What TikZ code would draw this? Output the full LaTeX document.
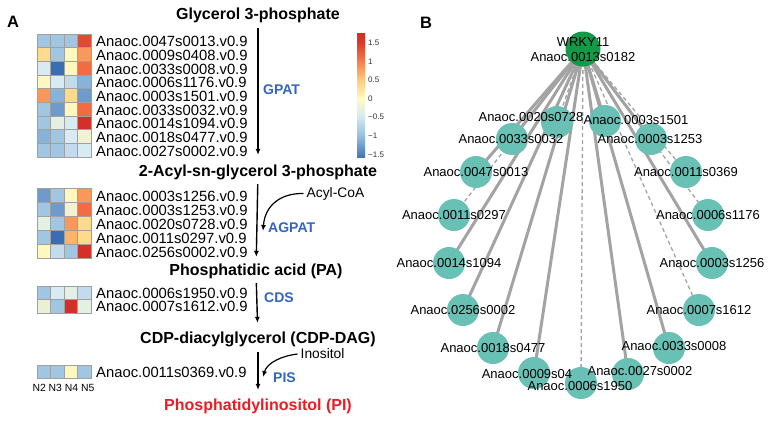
\documentclass[tikz,border=0pt]{standalone}
\usepackage{fontspec}
\setmainfont{Liberation Sans}
\usetikzlibrary{arrows.meta}
\pgfdeclarelayer{background}
\pgfdeclarelayer{canvas}
\pgfsetlayers{canvas,background,main}
\definecolor{hDB}{HTML}{3A6DB4}
\definecolor{hMB}{HTML}{6E9BCB}
\definecolor{hMBb}{HTML}{88B3D8}
\definecolor{hLB}{HTML}{A0C6E1}
\definecolor{hLLB}{HTML}{C2DCED}
\definecolor{hVLB}{HTML}{D8EBF2}
\definecolor{hPG}{HTML}{E3F1E4}
\definecolor{hPGb}{HTML}{EAF0D4}
\definecolor{hPY}{HTML}{FEF7C0}
\definecolor{hPYb}{HTML}{F3F1D3}
\definecolor{hLO}{HTML}{FEDA8C}
\definecolor{hOb}{HTML}{FDB36A}
\definecolor{hO}{HTML}{F9985A}
\definecolor{hOR}{HTML}{F26B43}
\definecolor{hRO}{HTML}{E14B32}
\definecolor{hR}{HTML}{D3302A}
\definecolor{cellgrey}{HTML}{A0A0A0}
\definecolor{enzblue}{HTML}{3366BE}
\definecolor{pired}{HTML}{EB1C24}
\definecolor{cbtext}{HTML}{333333}
\definecolor{hubgreen}{HTML}{119A48}
\definecolor{tealnode}{HTML}{69C0B4}
\definecolor{edgegrey}{HTML}{A3A3A3}
\definecolor{cbA}{HTML}{D22C28}
\definecolor{cbB}{HTML}{DC3B2C}
\definecolor{cbC}{HTML}{F67E4D}
\definecolor{cbD}{HTML}{FDCB7C}
\definecolor{cbE}{HTML}{FFFCC2}
\definecolor{cbF}{HTML}{D4E9F2}
\definecolor{cbG}{HTML}{94BFDC}
\definecolor{cbH}{HTML}{4B7BB8}
\definecolor{cbI}{HTML}{4575B4}
\begin{document}
\begin{tikzpicture}[x=1pt,y=-1pt,
  hcell/.style={draw=cellgrey,line width=0.9pt},
  hlab/.style={anchor=west,inner sep=0pt,font=\fontsize{14.8}{16}\selectfont},
  ttl/.style={anchor=base,inner sep=0pt,font=\fontsize{16}{18}\selectfont\bfseries},
  enz/.style={anchor=west,inner sep=0pt,text=enzblue,font=\fontsize{14}{16}\selectfont\bfseries},
  subst/.style={anchor=west,inner sep=0pt,font=\fontsize{13.8}{16}\selectfont},
  parr/.style={line width=1.4pt,-{Latex[length=6pt,width=5pt]}},
  cbl/.style={anchor=west,inner sep=0pt,text=cbtext,font=\fontsize{8}{9}\selectfont},
  plabel/.style={anchor=base west,inner sep=0pt,font=\fontsize{16.5}{18}\selectfont\bfseries},
  hub/.style={circle,fill=hubgreen,minimum size=35pt,inner sep=0pt},
  tnode/.style={circle,fill=tealnode,minimum size=32pt,inner sep=0pt},
  nlab/.style={inner sep=0pt,font=\fontsize{13}{15}\selectfont},
  sedge/.style={draw=edgegrey,line width=3pt},
  dedge/.style={draw=edgegrey,line width=1.3pt,dash pattern=on 4pt off 3pt},
]
\begin{pgfonlayer}{canvas}
\fill[white] (0,0) rectangle (772,421);
\end{pgfonlayer}
\useasboundingbox (0,0) rectangle (772,421);

% ---------------- Panel A ----------------
\node[plabel] (pA) at (7,27.7) {A};

% titles
\node[ttl] (t1) at (258,19) {Glycerol 3-phosphate};
\node[ttl] (t2) at (258,176.7) {2-Acyl-sn-glycerol 3-phosphate};
\node[ttl] (t3) at (256,275.7) {Phosphatidic acid (PA)};
\node[ttl] (t4) at (258,343.3) {CDP-diacylglycerol (CDP-DAG)};
\node[ttl,text=pired] (t5) at (258,410) {Phosphatidylinositol (PI)};

% pathway arrows
\draw[parr,shorten <=5.6pt,shorten >=10pt] (t1) -- (t2);
\draw[parr,shorten <=3.9pt,shorten >=7pt] (t2) -- (t3);
\draw[parr,shorten <=3.9pt,shorten >=8.6pt] (t3) -- (t4);
\draw[parr,shorten <=5.3pt,shorten >=8.3pt] (t4) -- (t5);

% enzymes
\node[enz] (gpat) at (263,90) {GPAT};
\node[enz] (agpat) at (268,228) {AGPAT};
\node[enz] (cds) at (264,298) {CDS};
\node[enz] (pis) at (273,378) {PIS};

% co-substrates
\node[subst] (acyl) at (306.5,193.5) {Acyl-CoA};
\node[subst] (inos) at (300.5,354) {Inositol};
\coordinate (acylend) at (263,231);
\coordinate (inosend) at (263,377);
\draw[parr,line width=1.2pt] ([xshift=-3pt]acyl.west) .. controls (281,193) and (265,205) .. (acylend);
\draw[parr,line width=1.2pt] ([xshift=-3pt]inos.west) .. controls (281,356) and (267,363) .. (inosend);

% heatmap 1
\foreach \row [count=\i from 0] in {{hLB,hLB,hLB,hRO},{hLO,hLB,hPY,hO},{hVLB,hDB,hPY,hOR},{hPY,hVLB,hLLB,hMBb},{hO,hMBb,hLO,hMB},{hLB,hMB,hPY,hOR},{hLB,hPG,hVLB,hR},{hMBb,hLB,hVLB,hPYb},{hLB,hLB,hLLB,hVLB}}{
  \foreach \c [count=\j from 0] in \row
    \path[hcell,fill=\c] ({37+13.5*\j},{34+13.67*\i}) rectangle ++(13.5,13.67);
}
\foreach \t [count=\i from 0] in {Anaoc.0047s0013.v0.9,Anaoc.0009s0408.v0.9,Anaoc.0033s0008.v0.9,Anaoc.0006s1176.v0.9,Anaoc.0003s1501.v0.9,Anaoc.0033s0032.v0.9,Anaoc.0014s1094.v0.9,Anaoc.0018s0477.v0.9,Anaoc.0027s0002.v0.9}
  \node[hlab] (ga\i) at (96,{34+13.67*(\i+0.5)+1}) {\t};

% heatmap 2
\foreach \row [count=\i from 0] in {{hMB,hLB,hPY,hO},{hLB,hMB,hPYb,hOR},{hPG,hLB,hO,hLO},{hLB,hDB,hOb,hLO},{hPY,hLLB,hLB,hR}}{
  \foreach \c [count=\j from 0] in \row
    \path[hcell,fill=\c] ({37+13.5*\j},{188+14*\i}) rectangle ++(13.5,14);
}
\foreach \t [count=\i from 0] in {Anaoc.0003s1256.v0.9,Anaoc.0003s1253.v0.9,Anaoc.0020s0728.v0.9,Anaoc.0011s0297.v0.9,Anaoc.0256s0002.v0.9}
  \node[hlab] (gb\i) at (96,{188+14*(\i+0.5)+1}) {\t};

% heatmap 3
\foreach \row [count=\i from 0] in {{hLB,hVLB,hPG,hLLB},{hPGb,hLB,hR,hPG}}{
  \foreach \c [count=\j from 0] in \row
    \path[hcell,fill=\c] ({37+13.5*\j},{286+13.6*\i}) rectangle ++(13.5,13.6);
}
\foreach \t [count=\i from 0] in {Anaoc.0006s1950.v0.9,Anaoc.0007s1612.v0.9}
  \node[hlab] (gc\i) at (96,{286+13.6*(\i+0.5)+0.5}) {\t};

% heatmap 4
\foreach \c [count=\j from 0] in {hLB,hLB,hPY,hLB}
  \path[hcell,fill=\c] ({37+13.5*\j},365) rectangle ++(13.5,13.4);
\node[hlab] (gd0) at (96,372.2) {Anaoc.0011s0369.v0.9};
\node[anchor=west,inner sep=0pt,font=\fontsize{10.4}{12}\selectfont] (ncols) at (32.3,388) {N2 N3 N4 N5};

% colour bar
\shade[top color=cbA,bottom color=cbB] (357,33) rectangle (365,43.3);
\shade[top color=cbB,bottom color=cbC] (357,43) rectangle (365,61.8);
\shade[top color=cbC,bottom color=cbD] (357,61.5) rectangle (365,80.3);
\shade[top color=cbD,bottom color=cbE] (357,80) rectangle (365,98.8);
\shade[top color=cbE,bottom color=cbF] (357,98.5) rectangle (365,117.3);
\shade[top color=cbF,bottom color=cbG] (357,117) rectangle (365,136.3);
\shade[top color=cbG,bottom color=cbH] (357,136) rectangle (365,155.3);
\shade[top color=cbH,bottom color=cbI] (357,155) rectangle (365,157);
\node[cbl] (cb1) at (368,43) {1.5};
\node[cbl] (cb2) at (368,61.5) {1};
\node[cbl] (cb3) at (368,80) {0.5};
\node[cbl] (cb4) at (368,98.5) {0};
\node[cbl] (cb5) at (368,117) {−0.5};
\node[cbl] (cb6) at (368,136) {−1};
\node[cbl] (cb7) at (368,155) {−1.5};

% ---------------- Panel B ----------------
\node[plabel] (pB) at (420,28) {B};

\node[hub] (w) at (583,49) {};
\node[tnode] (n01) at (557,122) {};
\node[tnode] (n02) at (605,121) {};
\node[tnode] (n03) at (512,139) {};
\node[tnode] (n04) at (651,139) {};
\node[tnode] (n05) at (476,172) {};
\node[tnode] (n06) at (686,172) {};
\node[tnode] (n07) at (454,215) {};
\node[tnode] (n08) at (708,215) {};
\node[tnode] (n09) at (449,263) {};
\node[tnode] (n10) at (712,263) {};
\node[tnode] (n11) at (463,310) {};
\node[tnode] (n12) at (699,310) {};
\node[tnode] (n13) at (493,348) {};
\node[tnode] (n14) at (669,348) {};
\node[tnode] (n15) at (534,373) {};
\node[tnode] (n16) at (628,374) {};
\node[tnode] (n17) at (581,383) {};

\begin{pgfonlayer}{background}
\foreach \n in {n02,n03,n04,n05,n09,n10,n11,n13,n14,n15,n16}
  \draw[sedge] (w.center) -- (\n.center);
\foreach \n in {n01,n06,n07,n08,n12,n17}
  \draw[dedge] (w.center) -- (\n.center);
\end{pgfonlayer}

\node[nlab,align=center] (wl) at (583,49.5) {WRKY11\\Anaoc.0013s0182};
\node[nlab] (l01) at (531,117) {Anaoc.0020s0728};
\node[nlab] (l02) at (636,120) {Anaoc.0003s1501};
\node[nlab] (l03) at (511,139) {Anaoc.0033s0032};
\node[nlab] (l04) at (650,139) {Anaoc.0003s1253};
\node[nlab] (l05) at (476,172) {Anaoc.0047s0013};
\node[nlab] (l06) at (686,172) {Anaoc.0011s0369};
\node[nlab] (l07) at (454,215) {Anaoc.0011s0297};
\node[nlab] (l08) at (708,215) {Anaoc.0006s1176};
\node[nlab] (l09) at (449,263) {Anaoc.0014s1094};
\node[nlab] (l10) at (712,263) {Anaoc.0003s1256};
\node[nlab] (l11) at (463,310) {Anaoc.0256s0002};
\node[nlab] (l12) at (699,310) {Anaoc.0007s1612};
\node[nlab] (l13) at (493,348) {Anaoc.0018s0477};
\node[nlab] (l14) at (674,346) {Anaoc.0033s0008};
\node[nlab] (l15) at (527,374) {Anaoc.0009s04};
\node[nlab] (l16) at (640,371) {Anaoc.0027s0002};
\node[nlab] (l17) at (580,386) {Anaoc.0006s1950};
\end{tikzpicture}
\end{document}
